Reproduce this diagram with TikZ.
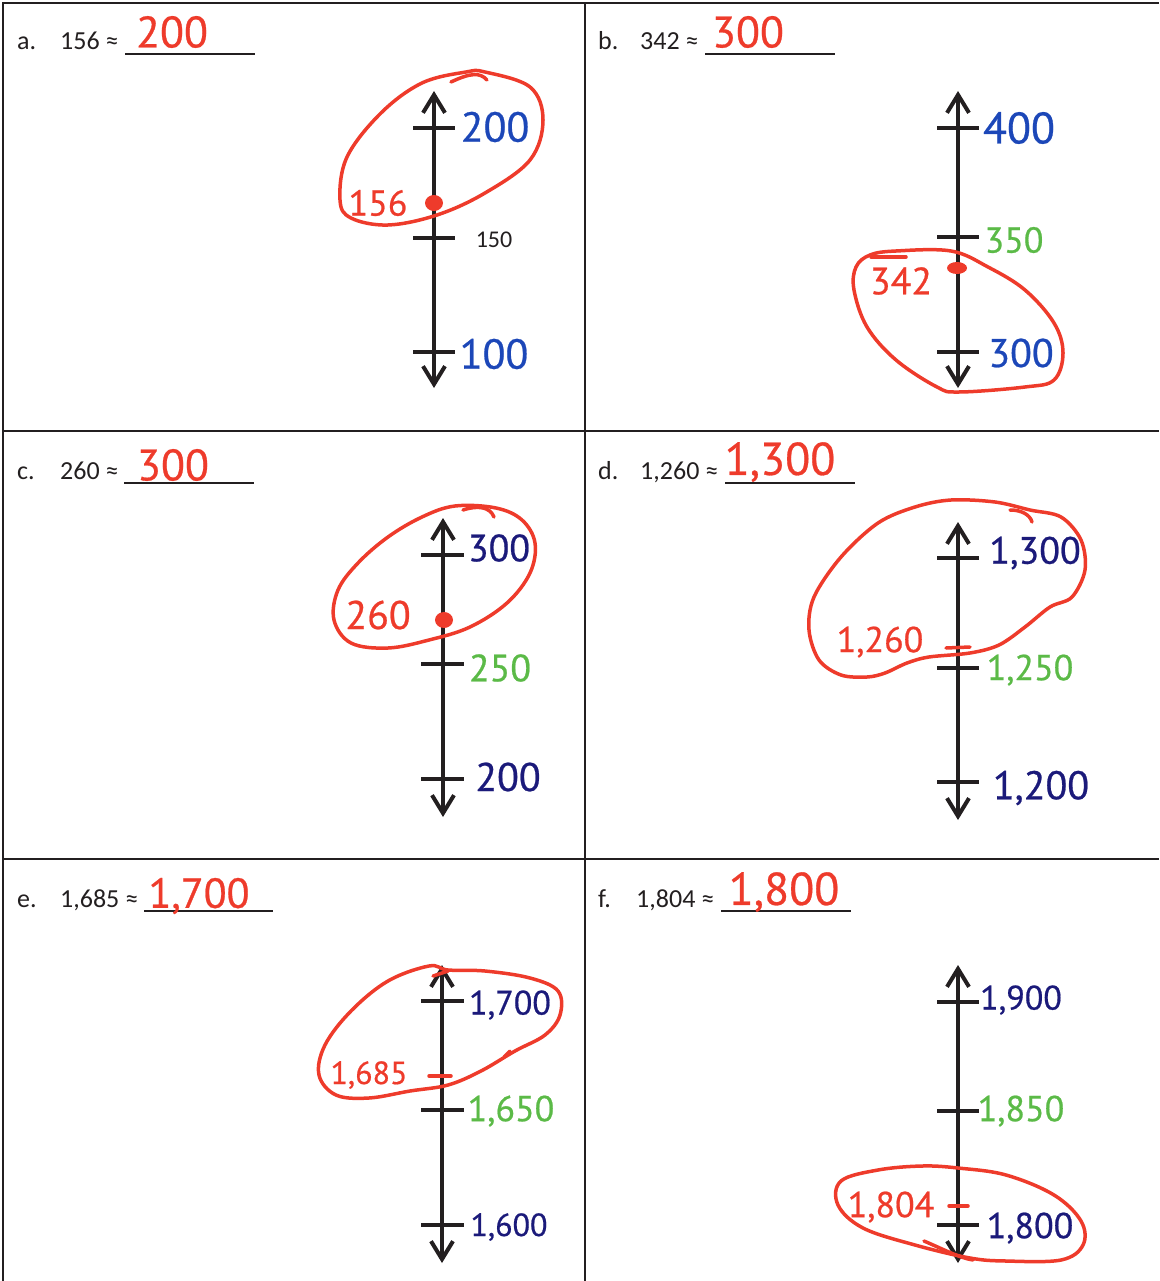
\documentclass[tikz,border=0pt]{standalone}
\usepackage{fontspec}
\setmainfont{Carlito}
\newfontfamily\handfont[FakeBold=0.6]{PT Sans}
\usetikzlibrary{arrows.meta}
\definecolor{pen}{HTML}{EE3B2B}
\definecolor{penblue}{HTML}{1C47B8}
\definecolor{pennavy}{HTML}{1B1A7A}
\definecolor{pengreen}{HTML}{5BBA47}
\definecolor{ink}{HTML}{231F20}
\tikzset{
  numline/.style={ink, line width=4pt,
    {Straight Barb[length=18pt,width=22pt]}-{Straight Barb[length=18pt,width=22pt]}},
  tickmark/.style={ink, line width=4pt},
  hand/.style={inner sep=0pt, font=\handfont\fontsize{#1}{#1}\selectfont},
  hand/.default=40,
  prompt/.style={inner sep=0pt, anchor=base west, text=ink, font=\fontsize{26}{26}\selectfont},
  ring/.style={pen, line width=3.5pt, line cap=round, line join=round},
  blank/.style={ink, line width=1.3pt},
}
\begin{document}
\begin{tikzpicture}[x=1pt,y=-1pt]
\useasboundingbox (0,0) rectangle (1159,1281);
% table lines
\draw[ink, line width=2pt] (3,1281) -- (3,3) -- (1159,3);
\draw[ink, line width=2pt] (3,431) -- (1159,431);
\draw[ink, line width=2pt] (3,859) -- (1159,859);
\draw[ink, line width=2pt] (585,3) -- (585,1281);

% a) 156
\node[prompt] (qa) at (17,50) {a.};
\node[prompt] (qanum) at (60,50) {156 ≈};
\draw[blank] (125,54) -- (255,54);
\node[hand=44, text=pen] (ansa) at (172,32) {200};
\coordinate (atop) at (434,91);
\coordinate (abot) at (434,388);
\draw[numline] (abot) -- (atop);
\draw[tickmark] (413,128) -- (455,128);
\draw[tickmark] (413,238) -- (455,238);
\draw[tickmark] (413,352) -- (455,352);
\node[hand=42, text=penblue] (a200) at (495,127) {200};
\node[prompt, anchor=center, font=\fontsize{24}{24}\selectfont] (a150) at (494,240) {150};
\node[hand=42, text=penblue] (a100) at (494,354) {100};
\fill[pen] (434,203) ellipse (9 and 8);
\node[hand=36, text=pen] (a156) at (378,203) {156};
\draw[ring] (451,82) .. controls (470,73) and (480,72) .. (487,80);
\draw[ring] plot[smooth cycle, tension=0.6] coordinates {(485,72) (530,87) (543,120) (530,160)
  (485,193) (437,215) (388,225) (351,218) (340,200) (347,157) (381,113) (422,83) (466,72)};

% b) 342
\node[prompt] (qb) at (598,50) {b.};
\node[prompt] (qbnum) at (640,50) {342 ≈};
\draw[blank] (705,54) -- (835,54);
\node[hand=44, text=pen] (ansb) at (748,32) {300};
\coordinate (btop) at (958,91);
\coordinate (bbot) at (958,388);
\draw[numline] (bbot) -- (btop);
\draw[tickmark] (937,128) -- (979,128);
\draw[tickmark] (937,237) -- (979,237);
\draw[tickmark] (937,352) -- (979,352);
\node[hand=44, text=penblue] (b400) at (1019,128) {400};
\node[hand=36, text=pengreen] (b350) at (1014,240) {350};
\node[hand=40, text=penblue] (b300) at (1021,353) {300};
\fill[pen] (957,268) ellipse (10 and 6);
\node[hand=38, text=pen] (b342) at (901,281) {342};
\draw[ring] (871,257) -- (906,257);
\draw[ring] plot[smooth cycle, tension=0.6] coordinates {(896,251) (951,251) (988,267) (1025,290)
  (1054,323) (1063,353) (1054,380) (1025,387) (959,392) (937,387) (896,360) (867,327) (854,290)
  (856,267) (870,255)};

% c) 260
\node[prompt] (qc) at (17,479) {c.};
\node[prompt] (qcnum) at (60,479) {260 ≈};
\draw[blank] (124,483) -- (254,483);
\node[hand=44, text=pen] (ansc) at (173,465) {300};
\coordinate (ctop) at (443,518);
\coordinate (cbot) at (443,817);
\draw[numline] (cbot) -- (ctop);
\draw[tickmark] (421,555) -- (464,555);
\draw[tickmark] (421,664) -- (464,664);
\draw[tickmark] (421,779) -- (464,779);
\node[hand=38, text=pennavy] (c300) at (499,548) {300};
\node[hand=38, text=pengreen] (c250) at (500,668) {250};
\node[hand=40, text=pennavy] (c200) at (508,777) {200};
\fill[pen] (444,620) ellipse (9 and 8);
\node[hand=40, text=pen] (c260) at (378,615) {260};
\draw[ring] (463,510) .. controls (478,505) and (490,507) .. (494,517);
\draw[ring] plot[smooth cycle, tension=0.6] coordinates {(496,508) (522,520) (535,543) (530,573)
  (507,603) (470,627) (429,640) (388,648) (351,643) (334,620) (338,590) (358,563) (388,537)
  (422,517) (455,506)};

% d) 1,260
\node[prompt] (qd) at (598,479) {d.};
\node[prompt] (qdnum) at (640,479) {1,260 ≈};
\draw[blank] (725,483) -- (855,483);
\node[hand=46, text=pen] (ansd) at (780,462) {1,300};
\coordinate (dtop) at (958,522);
\coordinate (dbot) at (958,820);
\draw[numline] (dbot) -- (dtop);
\draw[tickmark] (937,558) -- (979,558);
\draw[tickmark] (937,668) -- (979,668);
\draw[tickmark] (937,782) -- (979,782);
\node[hand=38, text=pennavy] (d1300) at (1035,553) {1,300};
\node[hand=36, text=pengreen] (d1250) at (1030,670) {1,250};
\node[hand=40, text=pennavy] (d1200) at (1041,788) {1,200};
\draw[ring] (946,648) -- (970,647);
\node[hand=36, text=pen] (d1260) at (880,642) {1,260};
\draw[ring] (1010,510) .. controls (1022,510) and (1030,515) .. (1032,522);
\draw[ring] plot[smooth cycle, tension=0.55] coordinates {(1061,517) (1081,540) (1085,570)
  (1072,597) (1050,607) (1025,627) (999,645) (970,653) (929,657) (907,663) (885,673) (867,677)
  (841,675) (819,660) (809,630) (814,597) (841,557) (878,523) (915,507) (951,500) (995,502)
  (1030,510)};

% e) 1,685
\node[prompt] (qe) at (17,907) {e.};
\node[prompt] (qenum) at (60,907) {1,685 ≈};
\draw[blank] (144,911) -- (273,911);
\node[hand=42, text=pen] (anse) at (199,896) {1,700};
\coordinate (etop) at (442,965);
\coordinate (ebot) at (442,1263);
\draw[numline] (ebot) -- (etop);
\draw[tickmark] (421,1001) -- (464,1001);
\draw[tickmark] (421,1110) -- (464,1110);
\draw[tickmark] (421,1225) -- (464,1225);
\node[hand=34, text=pennavy] (e1700) at (510,1005) {1,700};
\node[hand=36, text=pengreen] (e1650) at (511,1111) {1,650};
\node[hand=32, text=pennavy] (e1600) at (509,1227) {1,600};
\draw[ring] (429,1076) -- (451,1076);
\node[hand=32, text=pen] (e1685) at (369,1075) {1,685};
\draw[ring] (433,976) -- (448,971);
\draw[ring] (504,1057) -- (510,1051);
\draw[ring] plot[smooth cycle, tension=0.6] coordinates {(485,971) (530,978) (558,991) (560,1015)
  (545,1035) (515,1051) (481,1071) (448,1085) (410,1091) (369,1098) (336,1095) (319,1075)
  (325,1045) (351,1011) (388,981) (429,966) (448,970)};

% f) 1,804
\node[prompt] (qf) at (598,907) {f.};
\node[prompt] (qfnum) at (636,907) {1,804 ≈};
\draw[blank] (721,911) -- (851,911);
\node[hand=46, text=pen] (ansf) at (784,892) {1,800};
\coordinate (ftop) at (958,965);
\coordinate (fbot) at (958,1263);
\draw[numline] (fbot) -- (ftop);
\draw[tickmark] (937,1002) -- (979,1002);
\draw[tickmark] (937,1111) -- (979,1111);
\draw[tickmark] (937,1225) -- (979,1225);
\node[hand=34, text=pennavy] (f1900) at (1021,1000) {1,900};
\node[hand=36, text=pengreen] (f1850) at (1021,1111) {1,850};
\node[hand=36, text=pennavy] (f1800) at (1030,1228) {1,800};
\draw[ring] (949,1206) -- (968,1206);
\node[hand=36, text=pen] (f1804) at (891,1207) {1,804};
\draw[ring] (924,1241) .. controls (945,1250) and (960,1258) .. (973,1260);
\draw[ring] plot[smooth cycle, tension=0.6] coordinates {(958,1168) (1006,1175) (1054,1195)
  (1081,1221) (1083,1245) (1061,1260) (1006,1261) (970,1258) (915,1245) (863,1228) (838,1205)
  (841,1181) (878,1170) (922,1166)};
\end{tikzpicture}
\end{document}
